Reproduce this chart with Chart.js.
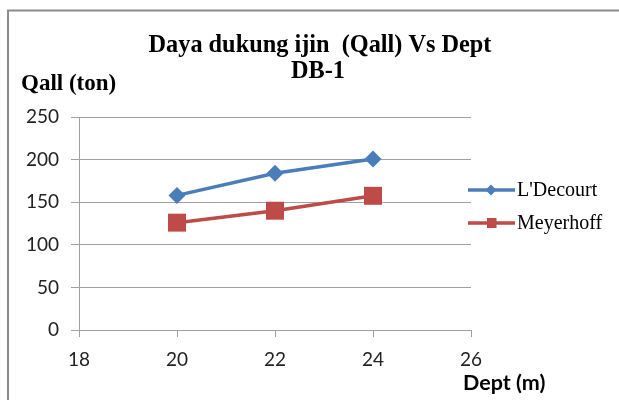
<!DOCTYPE html>
<html>
<head>
<meta charset="utf-8">
<script src="https://cdn.jsdelivr.net/npm/chart.js@4.4.1/dist/chart.umd.min.js"></script>
<style>
html,body{margin:0;padding:0;background:#fff;}
#wrap{width:619px;height:400px;position:relative;}
canvas{display:block;}
</style>
</head>
<body>
<div id="wrap"><canvas id="c" width="619" height="400"></canvas></div>
<script>
// ---- data ----
const titleLines = ['Daya dukung ijin  (Qall) Vs Dept', 'DB-1'];
const yAxisTitle = 'Qall (ton)';
const xAxisTitle = 'Dept (m)';
const seriesNames = ["L'Decourt", 'Meyerhoff'];
const depths = [20, 22, 24];
const decourtValues = [158, 184, 200.6];
const meyerhoffValues = [126, 140, 157.5];
const xTickValues = [18, 20, 22, 24, 26];
const yTickValues = [0, 50, 100, 150, 200, 250];

const blue = '#4A7EBB';
const red = '#BE4B48';
const gridColor = '#a0a0a0';
const tickFont = { family: 'Lato', size: 19 };

const toPoints = (xs, ys) => xs.map((x, i) => ({ x: x, y: ys[i] }));

const decoPlugin = {
  id: 'deco',
  afterDraw(chart) {
    const ctx = chart.ctx;
    ctx.save();
    // outer frame
    ctx.strokeStyle = '#8c8c8c';
    ctx.lineWidth = 2;
    ctx.strokeRect(8, 10.5, 700, 500);

    // title
    ctx.fillStyle = '#000';
    ctx.textAlign = 'center';
    ctx.textBaseline = 'alphabetic';
    ctx.font = 'bold 24.3px "Liberation Serif"';
    ctx.fillText(titleLines[0], 320, 52);
    ctx.fillText(titleLines[1], 318, 78);

    // y axis title
    ctx.textAlign = 'left';
    ctx.font = 'bold 23px "Liberation Serif"';
    ctx.fillText(yAxisTitle, 21, 90);

    // x axis title
    ctx.font = 'bold 21.5px Lato';
    ctx.fillText(xAxisTitle, 463, 390);

    // legend
    const items = chart.data.datasets;
    const legendY = [190, 223];
    items.forEach((ds, i) => {
      const y = legendY[i];
      ctx.strokeStyle = ds.borderColor;
      ctx.lineWidth = 3.5;
      ctx.beginPath();
      ctx.moveTo(468, y);
      ctx.lineTo(515, y);
      ctx.stroke();
      ctx.fillStyle = ds.backgroundColor;
      if (ds.pointStyle === 'rectRot') {
        const r = 5.5;
        ctx.beginPath();
        ctx.moveTo(491 - r, y);
        ctx.lineTo(491, y - r);
        ctx.lineTo(491 + r, y);
        ctx.lineTo(491, y + r);
        ctx.closePath();
        ctx.fill();
      } else {
        ctx.fillRect(487, y - 5, 9.5, 10);
      }
      ctx.fillStyle = '#000';
      ctx.font = '20px "Liberation Serif"';
      ctx.textBaseline = 'middle';
      ctx.fillText(ds.label, 517, y + 1);
    });
    ctx.restore();
  }
};

new Chart(document.getElementById('c'), {
  type: 'scatter',
  data: {
    datasets: [
      {
        label: seriesNames[0],
        data: toPoints(depths, decourtValues),
        showLine: true,
        borderColor: blue,
        backgroundColor: blue,
        borderWidth: 3.5,
        pointStyle: 'rectRot',
        pointRadius: 8.5,
        pointHoverRadius: 8.5,
        pointBorderWidth: 0,
        tension: 0
      },
      {
        label: seriesNames[1],
        data: toPoints(depths, meyerhoffValues),
        showLine: true,
        borderColor: red,
        backgroundColor: red,
        borderWidth: 3.5,
        pointStyle: 'rect',
        pointRadius: 12.7,
        pointHoverRadius: 12.7,
        pointBorderWidth: 0,
        tension: 0
      }
    ]
  },
  options: {
    responsive: false,
    animation: false,
    devicePixelRatio: 1,
    layout: { padding: { left: 0, top: 117, right: 148, bottom: 0 } },
    plugins: {
      legend: { display: false },
      title: { display: false },
      tooltip: { enabled: false }
    },
    scales: {
      x: {
        type: 'linear',
        min: xTickValues[0],
        max: xTickValues[xTickValues.length - 1],
        afterBuildTicks: (scale) => { scale.ticks = xTickValues.map(v => ({ value: v })); },
        afterFit: (scale) => { scale.height = 70; },
        grid: { drawOnChartArea: false, drawTicks: true, tickLength: 7, color: gridColor, lineWidth: 1 },
        border: { display: true, color: gridColor, width: 1 },
        ticks: { font: tickFont, color: '#222', padding: 11, maxRotation: 0, autoSkip: false }
      },
      y: {
        type: 'linear',
        min: yTickValues[0],
        max: yTickValues[yTickValues.length - 1],
        afterBuildTicks: (scale) => { scale.ticks = yTickValues.map(v => ({ value: v })); },
        afterFit: (scale) => { scale.width = 79; },
        grid: { drawOnChartArea: true, drawTicks: true, tickLength: 8, color: gridColor, lineWidth: 1 },
        border: { display: true, color: gridColor, width: 1 },
        ticks: { font: tickFont, color: '#222', padding: 12, autoSkip: false }
      }
    }
  },
  plugins: [decoPlugin]
});
</script>
</body>
</html>
